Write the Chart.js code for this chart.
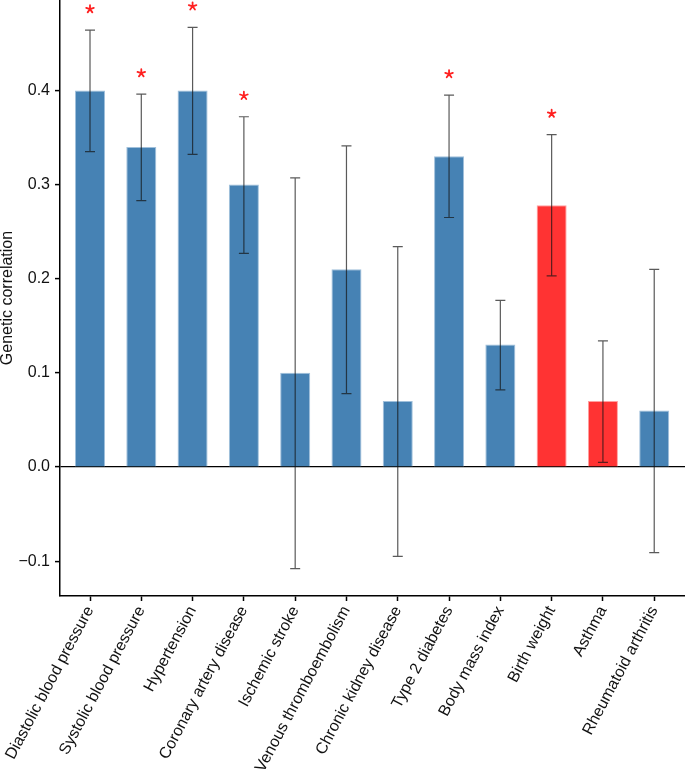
<!DOCTYPE html>
<html>
<head>
<meta charset="utf-8">
<script src="https://cdn.jsdelivr.net/npm/chart.js@4.4.1/dist/chart.umd.min.js"></script>
<style>
  html, body { margin: 0; padding: 0; background: #fff; }
  canvas { display: block; }
</style>
</head>
<body>
<canvas id="chart" width="685" height="776"></canvas>
<script>
const categories = [
  'Diastolic blood pressure', 'Systolic blood pressure', 'Hypertension', 'Coronary artery disease',
  'Ischemic stroke', 'Venous thromboembolism', 'Chronic kidney disease', 'Type 2 diabetes',
  'Body mass index', 'Birth weight', 'Asthma', 'Rheumatoid arthritis'
];
const correlations = [0.40, 0.34, 0.40, 0.30, 0.10, 0.21, 0.07, 0.33, 0.13, 0.278, 0.07, 0.06];
const ciLower = [0.335, 0.283, 0.332, 0.227, -0.108, 0.078, -0.095, 0.265, 0.082, 0.203, 0.005, -0.091];
const ciUpper = [0.464, 0.396, 0.467, 0.372, 0.307, 0.341, 0.234, 0.395, 0.177, 0.353, 0.134, 0.210];
const significant = [true, true, true, true, false, false, false, true, false, true, false, false];
const redTraits = ['Birth weight', 'Asthma'];
const yTicks = [-0.1, 0.0, 0.1, 0.2, 0.3, 0.4];

const BLUE = '#4682b4';
const RED = '#ff3333';
const FONT = "'Liberation Sans', Arial, Helvetica, sans-serif";

Chart.defaults.font.family = FONT;
Chart.defaults.font.size = 16;
Chart.defaults.color = '#111';

const errorBars = {
  id: 'errorBars',
  afterDatasetsDraw(chart) {
    const { ctx, scales } = chart;
    ctx.save();
    ctx.strokeStyle = 'rgba(20,20,20,0.7)';
    ctx.lineWidth = 1.2;
    categories.forEach((_, i) => {
      const x = scales.x.getPixelForValue(i);
      const lo = scales.y.getPixelForValue(ciLower[i]);
      const hi = scales.y.getPixelForValue(ciUpper[i]);
      ctx.beginPath();
      ctx.moveTo(x, lo); ctx.lineTo(x, hi);
      ctx.moveTo(x - 5, lo); ctx.lineTo(x + 5, lo);
      ctx.moveTo(x - 5, hi); ctx.lineTo(x + 5, hi);
      ctx.stroke();
    });
    // significance asterisks above the upper whisker
    ctx.strokeStyle = '#ff2020';
    ctx.lineWidth = 1.8;
    ctx.lineCap = 'round';
    categories.forEach((_, i) => {
      if (!significant[i]) return;
      const x = scales.x.getPixelForValue(i);
      const y = scales.y.getPixelForValue(ciUpper[i]) - 21;
      ctx.beginPath();
      for (let k = 0; k < 5; k++) {
        const a = -Math.PI / 2 + k * 2 * Math.PI / 5;
        ctx.moveTo(x, y);
        ctx.lineTo(x + 4 * Math.cos(a), y + 4 * Math.sin(a));
      }
      ctx.stroke();
    });
    ctx.restore();
  }
};

const barColors = categories.map((c) => redTraits.includes(c) ? RED : BLUE);
const barBorders = categories.map((c) => redTraits.includes(c) ? 'rgba(255,150,150,0.9)' : 'rgba(150,185,215,0.9)');

new Chart(document.getElementById('chart'), {
  type: 'bar',
  data: {
    datasets: [{
      data: correlations.map((v, i) => ({ x: i, y: v })),
      backgroundColor: barColors,
      borderColor: barBorders,
      borderWidth: 1,
      barPercentage: 0.585,
      categoryPercentage: 1
    }]
  },
  options: {
    responsive: false,
    animation: false,
    devicePixelRatio: 1,
    layout: { padding: 0 },
    plugins: { legend: { display: false }, tooltip: { enabled: false } },
    scales: {
      x: {
        type: 'linear',
        offset: false,
        min: -0.585,
        max: 11.6,
        afterBuildTicks(scale) { scale.ticks = categories.map((_, i) => ({ value: i })); },
        afterFit(scale) { scale.height = 180; scale.paddingLeft = 0; scale.paddingRight = 0; },
        ticks: {
          callback: (v) => categories[v],
          minRotation: 62,
          maxRotation: 62,
          autoSkip: false,
          padding: 2,
          color: '#111'
        },
        grid: { offset: false, drawOnChartArea: false, drawTicks: true, tickLength: 5, tickColor: '#000', tickWidth: 1.5 },
        border: { display: true, color: '#000', width: 1.5 }
      },
      y: {
        min: -0.137,
        max: 0.496,
        afterBuildTicks(scale) { scale.ticks = yTicks.map((v) => ({ value: v })); },
        afterFit(scale) { scale.width = 60; scale.paddingTop = 0; scale.paddingBottom = 0; },
        ticks: {
          callback: (v) => (v < 0 ? '\u2212' : '') + Math.abs(v).toFixed(1),
          padding: 5,
          color: '#111'
        },
        grid: {
          drawOnChartArea: true,
          drawTicks: true,
          tickLength: 5,
          tickColor: '#000',
          tickWidth: 1.5,
          color: (ctx) => (ctx.tick && ctx.tick.value === 0 ? '#000' : 'rgba(0,0,0,0)'),
          lineWidth: 1.2
        },
        border: { display: true, color: '#000', width: 1.5 },
        title: {
          display: true,
          text: 'Genetic correlation',
          font: { size: 16, lineHeight: 1 },
          padding: 0,
          color: '#111'
        }
      }
    }
  },
  plugins: [errorBars]
});
</script>
</body>
</html>
